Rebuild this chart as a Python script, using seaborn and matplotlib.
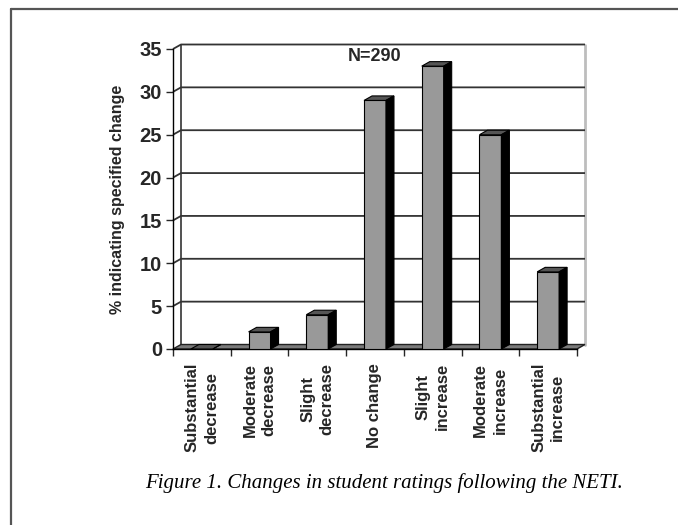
import matplotlib
matplotlib.use('Agg')
import matplotlib.pyplot as plt
import seaborn as sns
import numpy as np
from matplotlib.patches import Polygon
from matplotlib.lines import Line2D

# data
categories = ['Substantial\ndecrease', 'Moderate\ndecrease', 'Slight\ndecrease', 'No change',
              'Slight\nincrease', 'Moderate\nincrease', 'Substantial\nincrease']
percent = [0, 2, 4, 29, 33, 25, 9]
y_ticks = [0, 5, 10, 15, 20, 25, 30, 35]
n_label = 'N=290'
y_title = '% indicating specified change'
caption = 'Figure 1. Changes in student ratings following the NETI.'

sns.set_style('white')
plt.rcParams['font.family'] = ['Liberation Sans', 'DejaVu Sans']

fig = plt.figure(figsize=(6.78, 5.25), dpi=100)
ax = fig.add_axes([173 / 678, 176 / 525, 404 / 678, 300 / 525])
ax.patch.set_alpha(0)

sns.barplot(x=categories, y=percent, color='#999999', saturation=1, width=0.38,
            edgecolor='black', linewidth=0.8, ax=ax, zorder=3)
bars = list(ax.patches)

ax.set_xlim(-0.5, len(categories) - 0.5)
ax.set_ylim(y_ticks[0], y_ticks[-1])

# depth of the pseudo-3D box: 8 px right, 4.5 px up, expressed in data units
inv = ax.transData.inverted()
p0 = ax.transData.transform((0, 0))
dx, dy = inv.transform(p0 + np.array([8.0, 4.5])) - inv.transform(p0)

x_l, x_r = ax.get_xlim()

# back wall with gridlines (and their diagonals on the left wall)
for v in y_ticks[1:]:
    ax.plot([x_l, x_l + dx, x_r + dx], [v, v + dy, v + dy], color='#333333', lw=1.3,
            clip_on=False, zorder=1, solid_capstyle='butt')
ax.plot([x_l + dx, x_l + dx], [dy, y_ticks[-1] + dy], color='#333333', lw=1.2, clip_on=False, zorder=1)
ax.plot([x_r + dx, x_r + dx], [dy, y_ticks[-1] + dy], color='#bdbdbd', lw=2, clip_on=False, zorder=0.9)

# floor
floor = Polygon([(x_l, 0), (x_r, 0), (x_r + dx, dy), (x_l + dx, dy)], closed=True,
                facecolor='#7a7a7a', edgecolor='#222222', lw=1, zorder=2, clip_on=False)
ax.add_patch(floor)

# top and side faces of each bar
for b in bars:
    x0, w, h = b.get_x(), b.get_width(), b.get_height()
    top = Polygon([(x0, h), (x0 + w, h), (x0 + w + dx, h + dy), (x0 + dx, h + dy)], closed=True,
                  facecolor='#555555', edgecolor='black', lw=0.8, zorder=3, clip_on=False)
    side = Polygon([(x0 + w, 0), (x0 + w, h), (x0 + w + dx, h + dy), (x0 + w + dx, dy)], closed=True,
                   facecolor='black', edgecolor='black', lw=0.8, zorder=3, clip_on=False)
    ax.add_patch(top)
    ax.add_patch(side)

# axes styling
for s in ['top', 'right']:
    ax.spines[s].set_visible(False)
for s in ['left', 'bottom']:
    ax.spines[s].set_color('black')
    ax.spines[s].set_linewidth(1.0)

ax.set_yticks(y_ticks)
ax.set_yticklabels([str(v) for v in y_ticks], fontweight='bold', fontsize=14.5)
ax.tick_params(axis='y', direction='out', length=5, width=1, pad=3, left=True)

ax.set_xticks(range(len(categories)))
ax.set_xticklabels(categories, rotation=90, fontweight='bold', fontsize=12,
                   linespacing=1.35, multialignment='center')
ax.set_xticks(np.arange(x_l, x_r + 0.01, 1), minor=True)
ax.tick_params(axis='x', which='major', length=0, pad=10)
ax.tick_params(axis='x', which='minor', direction='out', length=5, width=1, bottom=True)

ax.set_xlabel('')
ax.set_ylabel(y_title, fontweight='bold', fontsize=11.5)
ax.yaxis.set_label_coords(-0.119, 0.5)

ax.text(3.0, 34.1, n_label, ha='center', va='center', fontweight='bold', fontsize=13)

fig.text(384 / 678, 1 - 483 / 525, caption, ha='center', va='center',
         family=['Liberation Serif'], style='italic', fontsize=15, color='black')

# frame around the figure (top and left edges only)
fig.add_artist(Line2D([11 / 678, 1], [1 - 9 / 525, 1 - 9 / 525], transform=fig.transFigure,
                      color='#555555', lw=1.6))
fig.add_artist(Line2D([11 / 678, 11 / 678], [0, 1 - 9 / 525], transform=fig.transFigure,
                      color='#555555', lw=1.6))

fig.savefig('out.png', dpi=100)
